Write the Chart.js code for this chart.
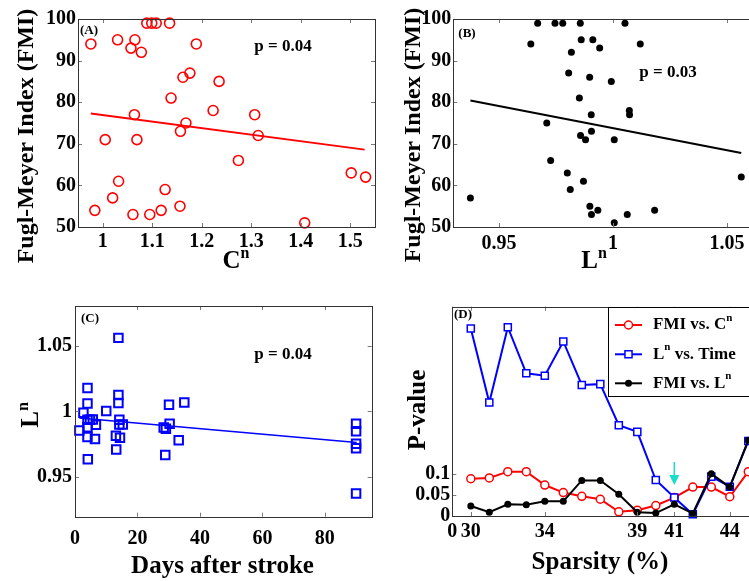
<!DOCTYPE html>
<html>
<head>
<meta charset="utf-8">
<script src="https://cdn.jsdelivr.net/npm/chart.js@4.4.1/dist/chart.umd.min.js"></script>
<style>
    html, body { margin: 0; padding: 0; background: #fff; overflow: hidden; width: 749px; height: 581px; }
    canvas { position: absolute; left: 0; top: 0; }
</style>
</head>
<body>
<canvas id="chartA" width="800" height="581"></canvas>
<canvas id="chartB" width="800" height="581"></canvas>
<canvas id="chartC" width="800" height="581"></canvas>
<canvas id="chartD" width="800" height="581"></canvas>
<script>
// (A) FMI vs C^n
var cnA = [0.976, 0.984, 1.005, 1.020, 1.030, 1.032, 1.057, 1.061, 1.064, 1.065, 1.069, 1.078, 1.089, 1.095, 1.099, 1.108, 1.118,
    1.126, 1.135, 1.138, 1.157, 1.156, 1.162, 1.168, 1.176, 1.189, 1.223, 1.235, 1.274, 1.307, 1.314, 1.408, 1.502, 1.531];
var fmiA = [94, 54, 71, 57, 95, 61, 93, 53, 77, 95, 71, 92, 99, 53, 99, 99, 54,
    59, 99, 81, 73, 55, 86, 75, 87, 94, 78, 85, 66, 77, 72, 51, 63, 62];
var fitAx = [0.976, 1.529];
var fitAy = [77.3, 68.6];
var xTicksA = [1, 1.1, 1.2, 1.3, 1.4, 1.5];
var xLabelsA = ['1', '1.1', '1.2', '1.3', '1.4', '1.5'];

// (B) FMI vs L^n
var lnB = [0.9375, 0.964, 0.967, 0.971, 0.9727, 0.9746, 0.978, 0.980, 0.9806, 0.9813, 0.9818, 0.9853, 0.9857, 0.9858, 0.9861,
    0.9871, 0.988, 0.9898, 0.9899, 0.9905, 0.9906, 0.9906, 0.9912, 0.9934, 0.9942, 0.9993, 1.0006, 1.0006, 1.0053, 1.0063,
    1.0072, 1.0073, 1.012, 1.0183, 1.0563];
var fmiB = [57, 94, 99, 75, 66, 99, 99, 63, 87, 59, 92, 81, 99, 72, 95,
    61, 71, 86, 55, 77, 73, 53, 95, 54, 93, 85, 51, 71, 99, 53,
    78, 77, 94, 54, 62];
var fitBx = [0.9375, 1.0563];
var fitBy = [80.4, 67.8];
var xTicksB = [0.95, 1, 1.05];
var xLabelsB = ['0.95', '1', '1.05'];

var fmiTicks = [50, 60, 70, 80, 90, 100];
var fmiLabels = ['50', '60', '70', '80', '90', '100'];

// (C) L^n vs days after stroke
var daysC = [1.4, 2.7, 4, 4, 4, 4, 4, 4.1, 4.8, 5.7, 6.4, 6.7, 10, 13.1, 13.2, 13.9, 13.9, 13.9, 14.2, 14.2, 14.4, 15.3,
    28.4, 28.9, 29.1, 30.1, 30.3, 33.2, 35, 90, 90, 90, 90, 90];
var lnC = [0.9855, 0.999, 1.0178, 1.006, 0.9937, 0.988, 0.9805, 0.9637, 0.9937, 0.9939, 0.979, 0.9899, 1.0003, 0.9815, 0.971,
    1.0558, 1.0124, 1.0063, 0.9937, 0.990, 0.980, 0.990, 0.9878, 0.9668, 0.9868, 1.005, 0.9906, 0.978, 1.0068,
    0.9906, 0.9848, 0.9754, 0.972, 0.9376];
var fitCx = [1.4, 90.2];
var fitCy = [0.9949, 0.9764];
var xTicksC = [0, 20, 40, 60, 80];
var xLabelsC = ['0', '20', '40', '60', '80'];
var yTicksC = [0.95, 1, 1.05];
var yLabelsC = ['0.95', '1', '1.05'];

// (D) p-values vs sparsity
var sparsity = [30, 31, 32, 33, 34, 35, 36, 37, 38, 39, 40, 41, 42, 43, 44, 45];
var pFmiCn = [0.089, 0.091, 0.106, 0.106, 0.074, 0.056, 0.047, 0.040, 0.010, 0.014, 0.025, 0.044, 0.069, 0.069, 0.046, 0.106];
var pLnTime = [0.448, 0.271, 0.451, 0.341, 0.335, 0.417, 0.313, 0.315, 0.217, 0.201, 0.086, 0.044, 0.004, 0.094, 0.070, 0.179];
var pFmiLn = [0.024, 0.009, 0.028, 0.027, 0.035, 0.035, 0.085, 0.085, 0.052, 0.009, 0.007, 0.028, 0.006, 0.101, 0.069, 0.181];
var xTicksD = [29, 30, 34, 39, 41, 44];
var xLabelsD = ['0', '30', '34', '39', '41', '44'];
var yTicksD = [0, 0.05, 0.1];
var yLabelsD = ['0', '0.05', '0.1'];
var arrowD = {x: 41, from: 0.129, to: 0.074, head: 0.098};

var SERIF = "'Liberation Serif', 'Times New Roman', serif";
var W = 800, H = 581;

function pts(xs, ys) {
    return xs.map(function (x, i) { return {x: x, y: ys[i]}; });
}

function sup(base, s, rest) {
    var segs = [{t: base}, {t: s, sup: true}];
    if (rest) segs.push({t: rest});
    return segs;
}

function drawRich(ctx, it) {
    var size = it.size, supSize = Math.round(size * 0.62), rise = size * 0.42;
    ctx.save();
    ctx.fillStyle = '#000';
    ctx.textBaseline = it.baseline || 'alphabetic';
    var w = 0, ws = [];
    it.segs.forEach(function (s) {
        ctx.font = 'bold ' + (s.sup ? supSize : size) + 'px ' + SERIF;
        ws.push(ctx.measureText(s.t).width);
        w += ws[ws.length - 1];
    });
    ctx.translate(it.x, it.y);
    if (it.rot) ctx.rotate(it.rot);
    var x = it.align == 'left' ? 0 : -w / 2;
    it.segs.forEach(function (s, i) {
        ctx.font = 'bold ' + (s.sup ? supSize : size) + 'px ' + SERIF;
        ctx.fillText(s.t, x, s.sup ? -rise : 0);
        x += ws[i];
    });
    ctx.restore();
}

function drawLegend(chart, lg) {
    var ctx = chart.ctx, a = chart.chartArea;
    ctx.save();
    ctx.fillStyle = '#fff';
    ctx.fillRect(lg.left, a.top, a.right - lg.left, lg.bottom - a.top);
    ctx.strokeStyle = '#000';
    ctx.lineWidth = 1;
    ctx.strokeRect(lg.left + 0.5, Math.round(a.top) + 0.5, a.right - lg.left, lg.bottom - a.top);
    chart.data.datasets.forEach(function (ds, i) {
        var y = lg.rows[i], cx = lg.left + 20.5;
        ctx.strokeStyle = ds.borderColor;
        ctx.lineWidth = 2;
        ctx.beginPath();
        ctx.moveTo(lg.left + 7, y);
        ctx.lineTo(lg.left + 34, y);
        ctx.stroke();
        ctx.fillStyle = ds.pointBackgroundColor;
        ctx.lineWidth = ds.pointBorderWidth;
        ctx.beginPath();
        if (ds.pointStyle == 'rect') {
            var s = ds.pointRadius * Math.SQRT1_2;
            ctx.rect(cx - s, y - s, 2 * s, 2 * s);
        } else {
            ctx.arc(cx, y, ds.pointRadius, 0, Math.PI * 2);
        }
        ctx.fill();
        if (ds.pointBorderWidth) ctx.stroke();
        drawRich(ctx, {x: lg.left + 45, y: y, size: 17, align: 'left', baseline: 'middle', segs: lg.names[i]});
    });
    ctx.restore();
}

function drawArrow(chart, ar) {
    var ctx = chart.ctx, xs = chart.scales.x, ys = chart.scales.y;
    var px = xs.getPixelForValue(ar.x);
    var y0 = ys.getPixelForValue(ar.from), y1 = ys.getPixelForValue(ar.to), yh = ys.getPixelForValue(ar.head);
    ctx.save();
    ctx.strokeStyle = '#19dccb';
    ctx.fillStyle = '#19dccb';
    ctx.lineWidth = 1.5;
    ctx.beginPath();
    ctx.moveTo(px, y0); ctx.lineTo(px, yh);
    ctx.stroke();
    ctx.beginPath();
    ctx.moveTo(px - 5, yh); ctx.lineTo(px + 5, yh); ctx.lineTo(px, y1);
    ctx.closePath();
    ctx.fill();
    ctx.restore();
}

// box round the plot, inner tick marks, and the texts of one panel
function framePlugin(cfg) {
    return {
        id: 'frame',
        afterDraw: function (chart) {
            var ctx = chart.ctx, a = chart.chartArea;
            var xs = chart.scales.x, ys = chart.scales.y;
            ctx.save();
            ctx.strokeStyle = '#777';
            ctx.lineWidth = 1;
            ctx.beginPath();
            xs.ticks.forEach(function (t) {
                var px = Math.round(xs.getPixelForValue(t.value)) + 0.5;
                ctx.moveTo(px, a.bottom); ctx.lineTo(px, a.bottom - 4);
                ctx.moveTo(px, a.top); ctx.lineTo(px, a.top + 4);
            });
            ys.ticks.forEach(function (t) {
                var py = Math.round(ys.getPixelForValue(t.value)) + 0.5;
                ctx.moveTo(a.left, py); ctx.lineTo(a.left + 4, py);
                ctx.moveTo(a.right, py); ctx.lineTo(a.right - 4, py);
            });
            ctx.stroke();
            ctx.strokeStyle = '#333';
            ctx.strokeRect(Math.round(a.left) + 0.5, Math.round(a.top) + 0.5,
                Math.round(a.right - a.left), Math.round(a.bottom - a.top));
            ctx.restore();
            if (cfg.legend) drawLegend(chart, cfg.legend);
            if (cfg.arrow) drawArrow(chart, cfg.arrow);
            (cfg.texts || []).forEach(function (it) { drawRich(ctx, it); });
        }
    };
}

function axis(min, max, ticks, labels, pad) {
    return {
        type: 'linear', min: min, max: max,
        grid: {display: false, drawTicks: false},
        border: {display: false},
        afterBuildTicks: function (sc) {
            sc.ticks = ticks.map(function (v) { return {value: v}; });
        },
        ticks: {
            autoSkip: false, maxRotation: 0, padding: pad, color: '#000',
            font: {family: SERIF, size: 20, weight: 'bold'},
            callback: function (v, i) { return labels[i]; }
        }
    };
}

// area: chart area in page pixels, ol: where the y axis box starts, xh: height of the x axis box
function makeOptions(area, ol, xh, x, y) {
    x.afterFit = function (sc) { sc.height = xh; };
    y.afterFit = function (sc) { sc.width = area.left - ol; };
    return {
        responsive: false,
        animation: false,
        events: [],
        layout: {padding: {left: ol, top: area.top, right: W - area.right, bottom: H - area.bottom - xh}},
        scales: {x: x, y: y},
        plugins: {legend: {display: false}, tooltip: {enabled: false}}
    };
}

var rot = -Math.PI / 2;

new Chart(document.getElementById('chartA').getContext('2d'), {
    type: 'scatter',
    data: {
        datasets: [{
            data: pts(fitAx, fitAy), showLine: true, pointRadius: 0, borderColor: '#ff0000', borderWidth: 2
        }, {
            data: pts(cnA, fmiA), pointStyle: 'circle', pointRadius: 5, pointBorderWidth: 1.6,
            pointBorderColor: '#ff0000', pointBackgroundColor: 'rgba(0,0,0,0)', clip: false
        }]
    },
    options: makeOptions({left: 78, top: 19, right: 375, bottom: 227}, 0, 63,
        axis(0.95, 1.55, xTicksA, xLabelsA, 3), axis(50, 100, fmiTicks, fmiLabels, 2)),
    plugins: [framePlugin({
        texts: [
            {x: 33, y: 136, size: 24, rot: rot, segs: [{t: 'Fugl-Meyer Index (FMI)'}]},
            {x: 236, y: 268, size: 25, segs: sup('C', 'n')},
            {x: 89, y: 31, size: 13, baseline: 'middle', segs: [{t: '(A)'}]},
            {x: 283, y: 47, size: 17, baseline: 'middle', segs: [{t: 'p = 0.04'}]}
        ]
    })]
});

new Chart(document.getElementById('chartB').getContext('2d'), {
    type: 'scatter',
    data: {
        datasets: [{
            data: pts(fitBx, fitBy), showLine: true, pointRadius: 0, borderColor: '#000', borderWidth: 2
        }, {
            data: pts(lnB, fmiB), pointStyle: 'circle', pointRadius: 3.5, pointBorderWidth: 0,
            pointBackgroundColor: '#000', clip: false
        }]
    },
    options: makeOptions({left: 453.3, top: 19, right: 772.5, bottom: 227}, 375, 63,
        axis(0.93, 1.07, xTicksB, xLabelsB, 5), axis(50, 100, fmiTicks, fmiLabels, 2)),
    plugins: [framePlugin({
        texts: [
            {x: 420, y: 135, size: 24, rot: rot, segs: [{t: 'Fugl-Meyer Index (FMI)'}]},
            {x: 594, y: 268, size: 25, segs: sup('L', 'n')},
            {x: 467, y: 34, size: 13, baseline: 'middle', segs: [{t: '(B)'}]},
            {x: 668, y: 73, size: 17, baseline: 'middle', segs: [{t: 'p = 0.03'}]}
        ]
    })]
});

new Chart(document.getElementById('chartC').getContext('2d'), {
    type: 'scatter',
    data: {
        datasets: [{
            data: pts(fitCx, fitCy), showLine: true, pointRadius: 0, borderColor: '#0000ff', borderWidth: 1.5
        }, {
            data: pts(daysC, lnC), pointStyle: 'rect', pointRadius: 6, pointBorderWidth: 2,
            pointBorderColor: '#0000ff', pointBackgroundColor: 'rgba(0,0,0,0)', clip: false
        }]
    },
    options: makeOptions({left: 75, top: 306, right: 371.7, bottom: 516.7}, 0, 64.3,
        axis(0, 95, xTicksC, xLabelsC, 10), axis(0.92, 1.08, yTicksC, yLabelsC, 3)),
    plugins: [framePlugin({
        texts: [
            {x: 38, y: 415, size: 25, rot: rot, segs: sup('L', 'n')},
            {x: 222.5, y: 573, size: 25, segs: [{t: 'Days after stroke'}]},
            {x: 90, y: 319, size: 13, baseline: 'middle', segs: [{t: '(C)'}]},
            {x: 283, y: 355, size: 17, baseline: 'middle', segs: [{t: 'p = 0.04'}]}
        ]
    })]
});

new Chart(document.getElementById('chartD').getContext('2d'), {
    type: 'scatter',
    data: {
        datasets: [{
            data: pts(sparsity, pFmiCn), showLine: true, order: 3, borderColor: '#ff0000', borderWidth: 2,
            pointStyle: 'circle', pointRadius: 4, pointBorderWidth: 1.5,
            pointBorderColor: '#ff0000', pointBackgroundColor: '#fff', clip: false
        }, {
            data: pts(sparsity, pLnTime), showLine: true, order: 2, borderColor: '#0000ff', borderWidth: 2,
            pointStyle: 'rect', pointRadius: 5, pointBorderWidth: 1.5,
            pointBorderColor: '#0000ff', pointBackgroundColor: '#fff', clip: false
        }, {
            data: pts(sparsity, pFmiLn), showLine: true, order: 1, borderColor: '#000', borderWidth: 2,
            pointStyle: 'circle', pointRadius: 3.5, pointBorderWidth: 0,
            pointBorderColor: '#000', pointBackgroundColor: '#000', clip: false
        }]
    },
    options: makeOptions({left: 452.3, top: 306.7, right: 766.8, bottom: 516}, 375, 65,
        axis(29, 46, xTicksD, xLabelsD, 4), axis(0, 0.5, yTicksD, yLabelsD, 2)),
    plugins: [framePlugin({
        legend: {
            left: 608, bottom: 395.7, rows: [325, 354.3, 383.3],
            names: [sup('FMI vs. C', 'n'), sup('L', 'n', ' vs. Time'), sup('FMI vs. L', 'n')]
        },
        arrow: arrowD,
        texts: [
            {x: 425, y: 410, size: 25, rot: rot, segs: [{t: 'P-value'}]},
            {x: 600, y: 569, size: 25, segs: [{t: 'Sparsity (%)'}]},
            {x: 463, y: 315, size: 13, baseline: 'middle', segs: [{t: '(D)'}]}
        ]
    })]
});
</script>
</body>
</html>
